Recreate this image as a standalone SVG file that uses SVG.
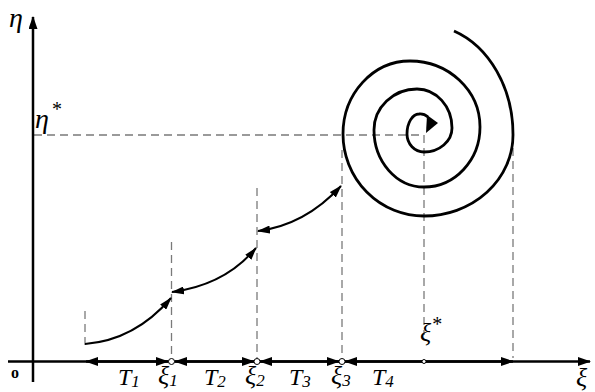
<svg xmlns="http://www.w3.org/2000/svg" width="595" height="392" viewBox="0 0 595 392">
<style>
.ax{stroke:#000;stroke-width:2.5;fill:none}
.dash{stroke:#7a7a7a;stroke-width:1.3;stroke-dasharray:8,5;fill:none}
.cv{stroke:#000;stroke-width:2;fill:none}
.sp{stroke:#000;stroke-width:2.8;fill:none}
.m{font-family:"Liberation Serif","Times New Roman",serif;font-style:italic;fill:#000}
.pt{fill:#fff;stroke:#000;stroke-width:1}
</style>
<defs>
<marker id="ah" viewBox="0 0 13 9" refX="12" refY="4.5" markerWidth="13" markerHeight="9" markerUnits="userSpaceOnUse" orient="auto-start-reverse">
<path d="M0,0 L13,4.5 L0,9 z" fill="#000"/>
</marker>
<marker id="ahc" viewBox="0 0 13 8" refX="12" refY="4" markerWidth="13" markerHeight="8" markerUnits="userSpaceOnUse" orient="auto-start-reverse">
<path d="M0,0 L13,4 L0,8 z" fill="#000"/>
</marker>
</defs>
<g id="guides">
<line class="dash" x1="34" y1="135" x2="424" y2="135"/>
<line class="dash" x1="85" y1="311" x2="85" y2="345"/>
<line class="dash" x1="171.5" y1="242" x2="171.5" y2="358"/>
<line class="dash" x1="257" y1="188" x2="257" y2="358"/>
<line class="dash" x1="342" y1="150" x2="342" y2="358"/>
<line class="dash" x1="424" y1="135" x2="424" y2="335"/>
<line class="dash" x1="513" y1="135" x2="513" y2="358"/>
</g>
<g id="axes">
<line class="ax" x1="8" y1="361.5" x2="590" y2="361.5" marker-end="url(#ah)"/>
<line class="ax" x1="33" y1="382" x2="33" y2="17" marker-end="url(#ah)"/>
</g>
<g id="connectors">
<line class="ax" x1="86" y1="361.5" x2="168" y2="361.5" marker-start="url(#ah)" marker-end="url(#ah)"/>
<line class="ax" x1="175" y1="361.5" x2="254" y2="361.5" marker-start="url(#ah)" marker-end="url(#ah)"/>
<line class="ax" x1="260" y1="361.5" x2="339" y2="361.5" marker-start="url(#ah)" marker-end="url(#ah)"/>
<line class="ax" x1="345" y1="361.5" x2="513" y2="361.5" marker-start="url(#ah)" marker-end="url(#ah)"/>
<path class="cv" d="M85,344 Q135,340 171,298" marker-end="url(#ahc)"/>
<path class="cv" d="M172,292 Q225,285 256,248" marker-start="url(#ahc)" marker-end="url(#ahc)"/>
<path class="cv" d="M258,231 Q305,225 341,186" marker-start="url(#ahc)" marker-end="url(#ahc)"/>
</g>
<g id="spiral">
<path class="sp" d="M454,31 A89,110 0 0 1 513,135 A89,81 0 0 1 424,216 A81,82 0 0 1 343,134 A67,73 0 0 1 410,61 A70,66 0 0 1 480,127 A56,60 0 0 1 424,187 A50,57 0 0 1 374,130 A43,41 0 0 1 417,89 A35,39 0 0 1 452,128 A28,24 0 0 1 424,152 A17,18 0 0 1 407,134 A12,20 0 0 1 419,114 Q424,113.5 428,117"/>
<polygon points="427,115 438,123 426,133" fill="#000"/>
</g>
<g id="points">
<circle class="pt" cx="171.5" cy="361.5" r="3"/>
<circle class="pt" cx="257" cy="361.5" r="3"/>
<circle class="pt" cx="342" cy="361.5" r="3"/>
<circle class="pt" cx="424" cy="361.5" r="2"/>
</g>
<g id="labels">
<text class="m" x="9" y="27" font-size="28">η</text>
<text class="m" x="35" y="128" font-size="28">η<tspan font-style="normal" font-size="20" dx="3" dy="-12">*</tspan></text>
<text class="m" x="420" y="341" font-size="26">ξ<tspan font-style="normal" font-size="20" dx="1" dy="-10">*</tspan></text>
<text class="m" x="576" y="386" font-size="26">ξ</text>
<text x="11" y="378" font-family="Liberation Serif, serif" font-weight="bold" font-size="16">o</text>
<text class="m" x="118" y="385" font-size="24">T<tspan font-size="17" dy="2">1</tspan></text>
<text class="m" x="158" y="384" font-size="26">ξ<tspan font-size="17" dy="2">1</tspan></text>
<text class="m" x="204" y="385" font-size="24">T<tspan font-size="17" dy="2">2</tspan></text>
<text class="m" x="245" y="384" font-size="26">ξ<tspan font-size="17" dy="2">2</tspan></text>
<text class="m" x="289" y="385" font-size="24">T<tspan font-size="17" dy="2">3</tspan></text>
<text class="m" x="331" y="384" font-size="26">ξ<tspan font-size="17" dy="2">3</tspan></text>
<text class="m" x="372" y="385" font-size="24">T<tspan font-size="17" dy="2">4</tspan></text>
</g>
</svg>
